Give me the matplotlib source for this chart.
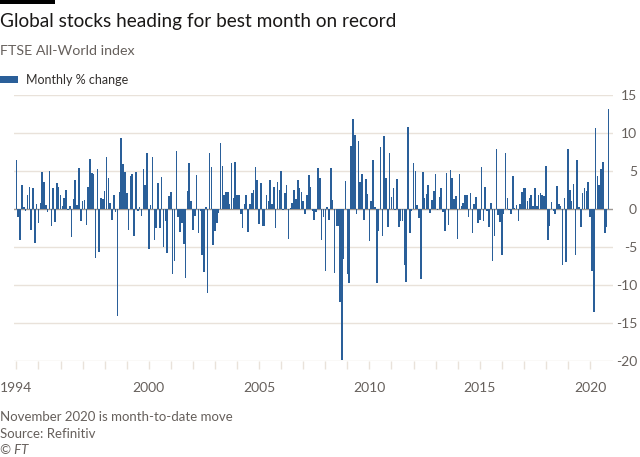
import matplotlib

matplotlib.use("Agg")
import matplotlib.pyplot as plt
from matplotlib.patches import Rectangle
import numpy as np

plt.rcParams["font.family"] = ["Lato", "DejaVu Sans"]

# Monthly % change, FTSE All-World, Jan 1994 - Nov 2020
chg_1994_1999 = [
    6.4, -1.1, -4.1, 3.1, 0.2, -0.3, 1.8, 2.9, -2.7, 2.8, -4.5, 0.6,
    -1.9, 0.8, 4.9, 3.6, 0.5, -0.4, 5.0, -2.2, 2.7, -1.7, 3.4, 2.9,
    1.9, 0.4, 1.5, 2.5, -0.1, 0.35, -3.7, 1.3, 3.8, 0.5, 5.4, -1.6,
    1.1, 1.2, -2.1, 2.9, 6.6, 4.8, 4.6, -6.4, 5.3, -5.7, 1.4, 1.3,
    2.4, 6.9, 4.1, 0.8, -1.5, 1.9, -0.35, -14.1, 2.2, 9.3, 5.9, 4.9,
    2.1, -2.7, 4.4, 4.6, -3.5, 4.9, -0.2, 0.3, -0.9, 5.3, 3.1, 7.4,
]
chg_2000_2004 = [
    -5.2, 0.5, 6.9, -4.1, -2.5, 3.4, -2.5, 4.2, -5.0, -1.6, -5.8, 1.7,
    2.3, -8.5, -6.9, 7.6, -1.0, -3.0, -1.8, -4.6, -9.1, 2.4, 6.1, 1.0,
    -2.7, -0.9, 4.5, -3.2, -0.3, -6.1, -8.3, 0.3, -11.0, 7.4, 5.5, -4.7,
    -2.9, -1.8, -0.5, 8.7, 5.7, 1.9, 2.2, 2.2, 0.6, 6.1, 1.5, 6.2,
    1.9, 1.9, -0.6, -2.5, 0.6, 1.8, -3.0, 0.6, 2.1, 2.5, 5.5, 3.8,
]
chg_2005_2009 = [
    -2.0, 3.4, -2.2, -2.2, 1.9, 1.1, 3.8, 0.7, 2.9, -2.5, 3.5, 2.5,
    5.0, -0.1, 2.1, 3.2, -4.0, 0.1, 0.8, 2.5, 1.3, 3.8, 2.8, 2.3,
    1.1, -0.6, 1.9, 4.5, 2.9, -0.3, -1.4, -0.4, 5.4, 4.1, -4.1, -1.1,
    -8.1, 0.3, -1.5, 5.4, 1.2, -8.4, -2.3, -2.2, -12.3, -19.9, -6.6, 3.7,
    -8.6, -9.8, 8.3, 11.9, 9.7, -0.6, 8.9, 3.6, 4.6, -1.5, 4.0, 2.0,
]
chg_2010_2014 = [
    -4.2, 1.1, 6.4, 0.3, -9.8, -2.9, 8.2, -3.6, 9.6, 4.1, -2.4, 7.4,
    1.6, 2.8, -0.1, 4.0, -2.4, -1.6, -1.6, -7.4, -9.6, 10.8, -3.2, -0.3,
    6.0, 5.0, 0.5, -1.2, -9.2, 4.9, 1.4, 2.0, 3.1, -0.5, 1.2, 2.4,
    4.6, -0.1, 1.6, 2.8, -0.4, -2.9, 4.7, -2.1, 5.1, 4.1, 1.3, 1.7,
    -3.9, 4.6, 0.4, 0.8, 1.9, 1.8, -1.1, 2.1, -3.2, 0.7, 1.6, -1.9,
]
chg_2015_2020 = [
    -1.4, 5.5, -1.6, 2.9, -0.2, -2.4, 0.8, -6.8, -3.6, 7.9, -0.8, -1.7,
    -6.0, -0.7, 7.4, 1.4, -0.1, -0.7, 4.3, 0.1, 0.5, -1.6, 0.7, 2.2,
    2.8, 2.8, 1.1, 1.5, 1.9, 0.35, 2.8, 0.35, 1.9, 2.1, 1.8, 1.7,
    5.7, -4.1, -2.3, 0.9, -0.3, -0.6, 3.0, 0.6, 0.4, -7.4, 1.4, -7.0,
    7.9, 2.5, 1.1, 3.3, -6.1, 6.4, 0.3, -2.4, 2.1, 2.8, 2.4, 3.5,
    -1.1, -8.1, -13.6, 10.6, 4.3, 3.1, 5.2, 6.2, -3.2, -2.4, 13.1,
]
start_year = 1994
year_ticks = list(range(1994, 2021))
year_labels = [1994, 2000, 2005, 2010, 2015, 2020]
y_ticks = [15, 10, 5, 0, -5, -10, -15, -20]

values = np.array(chg_1994_1999 + chg_2000_2004 + chg_2005_2009 + chg_2010_2014 + chg_2015_2020)
dates = start_year + np.arange(len(values)) / 12

BLUE = "#2a5f99"
GRID = "#e9e2da"
GREY = "#66605c"
DARK = "#33302e"

fig = plt.figure(figsize=(6.4, 4.57), dpi=100)
ax = fig.add_axes([14 / 640, 1 - 361 / 457, (613 - 14) / 640, (361 - 95) / 457])

ax.bar(dates, values, width=0.85 / 12, color=BLUE, linewidth=0, zorder=3)

ax.set_xlim(1993.89, 2021.04)
ax.set_ylim(-20, 15)

# horizontal grid, zero line darker
for y in y_ticks:
    ax.axhline(y, color="#9e9893" if y == 0 else GRID, linewidth=1, zorder=2 if y == 0 else 1)

ax.yaxis.tick_right()
ax.set_yticks(y_ticks)
ax.set_yticklabels([str(v) for v in y_ticks])
ax.tick_params(axis="y", length=0, pad=17.3, labelsize=10, labelcolor=GREY)
for lbl in ax.get_yticklabels():
    lbl.set_horizontalalignment("right")

ax.set_xticks(year_ticks)
ax.set_xticklabels([str(y) if y in year_labels else "" for y in year_ticks])
ax.tick_params(axis="x", length=6, width=1, color=GRID, pad=9, labelsize=10, labelcolor=GREY)

for s in ["top", "left", "right", "bottom"]:
    ax.spines[s].set_visible(False)

# header
fig.patches.append(Rectangle((0, 1 - 4 / 457), 55 / 640, 4 / 457, transform=fig.transFigure,
                             facecolor="#000000", edgecolor="none"))
fig.text(0, 1 - 22 / 457, "Global stocks heading for best month on record", fontsize=13.7,
         color="#1a1817", va="center", ha="left")
fig.text(0, 1 - 51 / 457, "FTSE All-World index", fontsize=10.3, color=GREY, va="center", ha="left")
fig.patches.append(Rectangle((0, 1 - 83 / 457), 18 / 640, 7 / 457, transform=fig.transFigure,
                             facecolor=BLUE, edgecolor="none"))
fig.text(26 / 640, 1 - 79.5 / 457, "Monthly % change", fontsize=9, color=DARK, va="center", ha="left")

# footer
fig.text(0, 1 - 417 / 457, "November 2020 is month-to-date move", fontsize=9.5, color=GREY, va="center")
fig.text(0, 1 - 434 / 457, "Source: Refinitiv", fontsize=9.5, color=GREY, va="center")
fig.text(0, 1 - 450 / 457, "\u00a9 FT", fontsize=9.5, color=GREY, va="center", style="italic")

fig.savefig("out.png", dpi=100, facecolor="white")
